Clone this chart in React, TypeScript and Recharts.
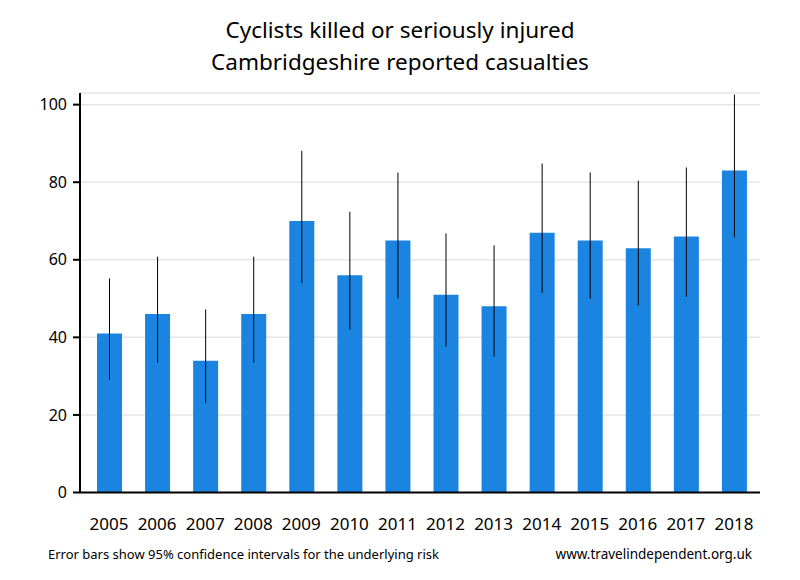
import React from "react";
import { BarChart, Bar, XAxis, YAxis, CartesianGrid, ErrorBar } from "recharts";

const years = ["2005","2006","2007","2008","2009","2010","2011","2012","2013","2014","2015","2016","2017","2018"];
const casualties = [41, 46, 34, 46, 70, 56, 65, 51, 48, 67, 65, 63, 66, 83];
const lowerCI = [29, 33.5, 23, 33.5, 54, 42, 50, 37.6, 35, 51.5, 50, 48.2, 50.5, 65.8];
const upperCI = [55.2, 60.8, 47.2, 60.8, 88.1, 72.4, 82.5, 66.8, 63.7, 84.8, 82.5, 80.4, 83.8, 102.6];
const yTicks = [0, 20, 40, 60, 80, 100];

const data = years.map((y, i) => ({
  year: y,
  value: casualties[i],
  err: [casualties[i] - lowerCI[i], upperCI[i] - casualties[i]],
}));

const FONT = "'Noto Sans', 'Open Sans', sans-serif";

export default function App() {
  return (
    <div style={{ position: "absolute", left: 0, top: 0, width: 800, height: 580, background: "#fff" }}>
      <BarChart
        width={800}
        height={580}
        data={data}
        margin={{ top: 93, right: 40, bottom: 57.5, left: 0 }}
      >
        <CartesianGrid vertical={false} stroke="#e6e6e6" strokeWidth={1.5} />
        <XAxis
          dataKey="year"
          height={30}
          tickLine={false}
          axisLine={{ stroke: "#000", strokeWidth: 2 }}
          tick={{ fill: "#000", fontSize: 17, fontFamily: FONT }}
          tickMargin={19}
          padding={{ left: 5, right: 2 }}
          interval={0}
        />
        <YAxis
          width={80}
          domain={[0, 103]}
          ticks={yTicks}
          allowDataOverflow
          axisLine={{ stroke: "#000", strokeWidth: 2 }}
          tickLine={{ stroke: "#000", strokeWidth: 2 }}
          tickSize={7}
          tickMargin={6}
          tick={{ fill: "#000", fontSize: 16, fontFamily: FONT }}
        />
        <Bar dataKey="value" fill="#1b83e0" barSize={25} isAnimationActive={false}>
          <ErrorBar dataKey="err" width={0} stroke="#000" strokeWidth={1} direction="y" />
        </Bar>
        <text x={400} y={38} textAnchor="middle" fontSize={22.5} fontFamily={FONT} fill="#000">
          Cyclists killed or seriously injured
        </text>
        <text x={400} y={70} textAnchor="middle" fontSize={22.5} fontFamily={FONT} fill="#000">
          Cambridgeshire reported casualties
        </text>
        <text x={48} y={559} fontSize={13} fontFamily={FONT} fill="#000">
          Error bars show 95% confidence intervals for the underlying risk
        </text>
        <text x={752} y={559} textAnchor="end" fontSize={13.5} fontFamily={FONT} fill="#000">
          www.travelindependent.org.uk
        </text>
      </BarChart>
    </div>
  );
}
